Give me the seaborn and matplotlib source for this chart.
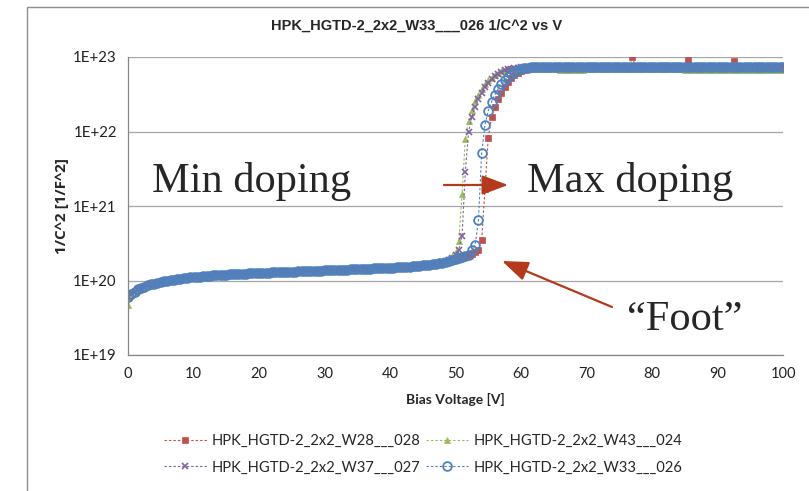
import numpy as np
import pandas as pd
import matplotlib
matplotlib.use("Agg")
import matplotlib.pyplot as plt
from matplotlib.lines import Line2D
from matplotlib.patches import Rectangle
from matplotlib.ticker import LogLocator, MultipleLocator, FuncFormatter, NullFormatter
import seaborn as sns

# Bias sweep: 0 ... 100 V in 0.5 V steps
bias_voltage = [i * 0.5 for i in range(201)]

UNIT = 1e20  # the 1/C^2 lists below are in units of 1e20 F^-2

w28_028 = [
    0.60, 0.66, 0.71, 0.76, 0.80, 0.83, 0.86, 0.89, 0.91, 0.94,
    0.96, 0.98, 1.00, 1.01, 1.03, 1.04, 1.06, 1.07, 1.08, 1.10,
    1.11, 1.12, 1.13, 1.14, 1.15, 1.16, 1.17, 1.18, 1.18, 1.19,
    1.20, 1.21, 1.21, 1.22, 1.23, 1.23, 1.24, 1.25, 1.25, 1.26,
    1.27, 1.27, 1.28, 1.28, 1.29, 1.29, 1.30, 1.30, 1.31, 1.31,
    1.32, 1.32, 1.33, 1.33, 1.34, 1.34, 1.35, 1.35, 1.36, 1.36,
    1.37, 1.37, 1.38, 1.38, 1.39, 1.39, 1.40, 1.40, 1.41, 1.41,
    1.42, 1.43, 1.43, 1.44, 1.44, 1.45, 1.46, 1.46, 1.47, 1.48,
    1.48, 1.49, 1.50, 1.51, 1.52, 1.53, 1.54, 1.55, 1.56, 1.58,
    1.59, 1.61, 1.63, 1.65, 1.67, 1.70, 1.73, 1.77, 1.81, 1.86,
    1.92, 1.98, 2.04, 2.10, 2.17, 2.25, 2.38, 2.60, 3.5, 17,
    83, 155, 210, 270, 330, 400, 460, 520, 570, 610,
    645, 675, 695, 710, 720, 726, 730, 730, 730, 730,
    730, 730, 730, 730, 730, 730, 730, 730, 730, 730,
    730, 730, 730, 730, 730, 730, 730, 730, 730, 730,
    730, 730, 730, 730, 1000, 730, 730, 730, 730, 730,
    730, 730, 730, 730, 730, 730, 730, 730, 730, 730,
    730, 910, 730, 730, 730, 730, 730, 730, 730, 730,
    730, 730, 730, 730, 730, 890, 730, 730, 730, 730,
    730, 730, 730, 730, 730, 730, 730, 730, 730, 730,
    730,
]

w43_024 = [
    0.47, 0.66, 0.71, 0.76, 0.80, 0.83, 0.86, 0.89, 0.91, 0.94,
    0.96, 0.98, 1.00, 1.01, 1.03, 1.04, 1.06, 1.07, 1.08, 1.10,
    1.11, 1.12, 1.13, 1.14, 1.15, 1.16, 1.17, 1.18, 1.18, 1.19,
    1.20, 1.21, 1.21, 1.22, 1.23, 1.23, 1.24, 1.25, 1.25, 1.26,
    1.27, 1.27, 1.28, 1.28, 1.29, 1.29, 1.30, 1.30, 1.31, 1.31,
    1.32, 1.32, 1.33, 1.33, 1.34, 1.34, 1.35, 1.35, 1.36, 1.36,
    1.37, 1.37, 1.38, 1.38, 1.39, 1.39, 1.40, 1.40, 1.41, 1.41,
    1.42, 1.43, 1.43, 1.44, 1.44, 1.45, 1.46, 1.46, 1.47, 1.48,
    1.48, 1.49, 1.50, 1.51, 1.52, 1.53, 1.54, 1.55, 1.56, 1.58,
    1.59, 1.61, 1.63, 1.65, 1.68, 1.72, 1.76, 1.80, 1.90, 2.10,
    2.45, 3.4, 14.5, 79, 140, 195, 255, 310, 370, 430,
    485, 530, 575, 610, 640, 662, 680, 692, 700, 705,
    708, 710, 700, 700, 700, 700, 700, 700, 700, 700,
    700, 700, 660, 660, 660, 660, 660, 660, 660, 660,
    700, 700, 700, 700, 700, 700, 700, 700, 700, 700,
    700, 700, 700, 700, 700, 700, 700, 700, 700, 700,
    700, 700, 700, 700, 700, 700, 700, 700, 700, 700,
    660, 660, 660, 660, 660, 660, 660, 660, 660, 660,
    660, 660, 660, 660, 660, 660, 660, 660, 660, 660,
    660, 660, 660, 660, 660, 660, 660, 660, 660, 660,
    660,
]

w37_027 = [
    0.60, 0.66, 0.71, 0.76, 0.80, 0.83, 0.86, 0.89, 0.91, 0.94,
    0.96, 0.98, 1.00, 1.01, 1.03, 1.04, 1.06, 1.07, 1.08, 1.10,
    1.11, 1.12, 1.13, 1.14, 1.15, 1.16, 1.17, 1.18, 1.18, 1.19,
    1.20, 1.21, 1.21, 1.22, 1.23, 1.23, 1.24, 1.25, 1.25, 1.26,
    1.27, 1.27, 1.28, 1.28, 1.29, 1.29, 1.30, 1.30, 1.31, 1.31,
    1.32, 1.32, 1.33, 1.33, 1.34, 1.34, 1.35, 1.35, 1.36, 1.36,
    1.37, 1.37, 1.38, 1.38, 1.39, 1.39, 1.40, 1.40, 1.41, 1.41,
    1.42, 1.43, 1.43, 1.44, 1.44, 1.45, 1.46, 1.46, 1.47, 1.48,
    1.48, 1.49, 1.50, 1.51, 1.52, 1.53, 1.54, 1.55, 1.56, 1.58,
    1.59, 1.61, 1.63, 1.65, 1.68, 1.71, 1.75, 1.80, 1.88, 2.00,
    2.20, 2.60, 4.0, 29, 100, 158, 215, 270, 330, 390,
    450, 505, 550, 595, 630, 660, 685, 700, 712, 720,
    725, 730, 730, 730, 730, 730, 730, 730, 730, 730,
    730, 730, 730, 730, 730, 730, 730, 730, 730, 730,
    730, 730, 730, 730, 730, 730, 730, 730, 730, 730,
    730, 730, 730, 730, 730, 730, 730, 730, 730, 730,
    730, 730, 730, 730, 730, 730, 730, 730, 730, 730,
    730, 730, 730, 730, 730, 730, 730, 730, 730, 730,
    730, 730, 730, 730, 730, 730, 730, 730, 730, 730,
    730, 730, 730, 730, 730, 730, 730, 730, 730, 730,
    730,
]

w33_026 = [
    0.60, 0.66, 0.71, 0.76, 0.80, 0.83, 0.86, 0.89, 0.91, 0.94,
    0.96, 0.98, 1.00, 1.01, 1.03, 1.04, 1.06, 1.07, 1.08, 1.10,
    1.11, 1.12, 1.13, 1.14, 1.15, 1.16, 1.17, 1.18, 1.18, 1.19,
    1.20, 1.21, 1.21, 1.22, 1.23, 1.23, 1.24, 1.25, 1.25, 1.26,
    1.27, 1.27, 1.28, 1.28, 1.29, 1.29, 1.30, 1.30, 1.31, 1.31,
    1.32, 1.32, 1.33, 1.33, 1.34, 1.34, 1.35, 1.35, 1.36, 1.36,
    1.37, 1.37, 1.38, 1.38, 1.39, 1.39, 1.40, 1.40, 1.41, 1.41,
    1.42, 1.43, 1.43, 1.44, 1.44, 1.45, 1.46, 1.46, 1.47, 1.48,
    1.48, 1.49, 1.50, 1.51, 1.52, 1.53, 1.54, 1.55, 1.56, 1.58,
    1.59, 1.61, 1.63, 1.65, 1.67, 1.70, 1.73, 1.77, 1.81, 1.86,
    1.92, 1.98, 2.05, 2.12, 2.22, 2.55, 3.0, 6.4, 52, 123,
    190, 250, 310, 370, 430, 490, 545, 595, 635, 668,
    692, 708, 718, 724, 728, 730, 730, 730, 730, 730,
    730, 730, 730, 730, 730, 730, 730, 730, 730, 730,
    730, 730, 730, 730, 730, 730, 730, 730, 730, 730,
    730, 730, 730, 730, 730, 730, 730, 730, 730, 730,
    730, 730, 730, 730, 730, 730, 730, 730, 730, 730,
    730, 730, 730, 730, 730, 730, 730, 730, 730, 730,
    730, 730, 730, 730, 730, 730, 730, 730, 730, 730,
    730, 730, 730, 730, 730, 730, 730, 730, 730, 730,
    730,
]

series_names = [
    "HPK_HGTD-2_2x2_W28___028",
    "HPK_HGTD-2_2x2_W43___024",
    "HPK_HGTD-2_2x2_W37___027",
    "HPK_HGTD-2_2x2_W33___026",
]
series_values = [w28_028, w43_024, w37_027, w33_026]
x_ticks = [0, 10, 20, 30, 40, 50, 60, 70, 80, 90, 100]
y_decades = [1e19, 1e20, 1e21, 1e22, 1e23]

# drawing styles, one per series (same order as series_names)
styles = [
    dict(color="#C0504D", marker="s", markersize=4.3, markerfacecolor="#C0504D",
         markeredgecolor="#C0504D", markeredgewidth=0.5),
    dict(color="#9BBB59", marker="^", markersize=5.0, markerfacecolor="#9BBB59",
         markeredgecolor="#9BBB59", markeredgewidth=0.5),
    dict(color="#8064A2", marker="x", markersize=4.3, markerfacecolor="#8064A2",
         markeredgecolor="#8064A2", markeredgewidth=1.2),
    dict(color="#4F81BD", marker="o", markersize=6.3, markerfacecolor="none",
         markeredgecolor="#4F81BD", markeredgewidth=1.3),
]
DOT = (0, (2.2, 1.8))

sns.set_style("white")
plt.rcParams["font.family"] = ["Lato", "DejaVu Sans"]

W, H = 809, 491
fig = plt.figure(figsize=(W / 100, H / 100), dpi=100)
ax = fig.add_axes([128 / W, 1 - 355 / H, (783 - 128) / W, (355 - 57) / H])

# outer chart frame
fig.add_artist(Rectangle((27 / W, -0.2), 1.5, 1.2 - 7 / H, transform=fig.transFigure,
                         fill=False, edgecolor="#8e8e8e", linewidth=1.0, clip_on=False))

frames = []
for name, vals in zip(series_names, series_values):
    frames.append(pd.DataFrame({"bias": bias_voltage,
                                "invc2": np.asarray(vals, dtype=float) * UNIT,
                                "sensor": name}))
data = pd.concat(frames, ignore_index=True)

handles = {}
for name, st in zip(series_names, styles):
    sub = data[data["sensor"] == name]
    sns.lineplot(data=sub, x="bias", y="invc2", ax=ax, estimator=None, sort=False,
                 legend=False, linestyle=DOT, linewidth=0.8, **st)
    handles[name] = Line2D([0], [0], linestyle=DOT, linewidth=0.8, **st)

ax.set_yscale("log")
ax.set_xlim(0, 100)
ax.set_ylim(1e19, 1e23)

ax.xaxis.set_minor_locator(MultipleLocator(2))
ax.set_xticks(x_ticks)
ax.yaxis.set_minor_locator(LogLocator(base=10, subs=np.arange(2, 10)))
ax.yaxis.set_minor_formatter(NullFormatter())
ax.set_yticks(y_decades)
ax.yaxis.set_major_formatter(FuncFormatter(lambda v, p: f"1E+{int(round(np.log10(v)))}"))

ax.grid(axis="y", which="major", color="#a6a6a6", linewidth=0.9)
ax.grid(axis="x", visible=False)
for side in ("top", "right"):
    ax.spines[side].set_visible(False)
for side in ("left", "bottom"):
    ax.spines[side].set_color("#868686")
    ax.spines[side].set_linewidth(0.9)

ax.tick_params(which="both", direction="in", length=3.5, width=0.8, color="#868686")
ax.tick_params(axis="x", which="major", pad=9, labelsize=10.5, labelcolor="#222222")
ax.tick_params(axis="y", which="major", pad=8, labelsize=10.8, labelcolor="#222222")

ax.set_xlabel("Bias Voltage [V]", fontsize=10, fontweight="bold", labelpad=8)
ax.set_ylabel("1/C^2 [1/F^2]", fontsize=11, fontweight="bold",
              family=["Open Sans", "DejaVu Sans"], labelpad=3)

fig.text(417 / W, 1 - 26 / H, "HPK_HGTD-2_2x2_W33___026 1/C^2 vs V",
         family=["Liberation Sans"], fontsize=10.5, fontweight="bold",
         ha="center", va="center")

# annotations on the doping transition
serif = ["Liberation Serif"]
fig.text(152 / W, 1 - 192 / H, "Min doping", family=serif, fontsize=30.5,
         ha="left", va="baseline")
fig.text(527 / W, 1 - 192 / H, "Max doping", family=serif, fontsize=30.5,
         ha="left", va="baseline")
fig.text(627 / W, 1 - 330 / H, "\u201cFoot\u201d", family=serif, fontsize=30.5,
         ha="left", va="baseline")

arrow_color = "#B33A1A"
arrow_style = "-|>,head_length=0.8,head_width=0.3"
ax.annotate("", xy=(508, H - 185), xycoords="figure pixels",
            xytext=(444, H - 185), textcoords="figure pixels",
            arrowprops=dict(arrowstyle=arrow_style, color=arrow_color, lw=1.6,
                            mutation_scale=20, shrinkA=0, shrinkB=0))
ax.annotate("", xy=(502, H - 261), xycoords="figure pixels",
            xytext=(612, H - 307), textcoords="figure pixels",
            arrowprops=dict(arrowstyle=arrow_style, color=arrow_color, lw=1.6,
                            mutation_scale=20, shrinkA=0, shrinkB=0))

order = [series_names[0], series_names[2], series_names[1], series_names[3]]
fig.legend([handles[n] for n in order], order, ncol=2, loc="upper left",
           bbox_to_anchor=(164 / W, 1 - 434 / H), frameon=False, fontsize=10.6,
           handlelength=2.9, handletextpad=0.34, columnspacing=0.34,
           labelspacing=0.85, borderaxespad=0, borderpad=0)

fig.savefig("out.png", dpi=100, facecolor="white")
